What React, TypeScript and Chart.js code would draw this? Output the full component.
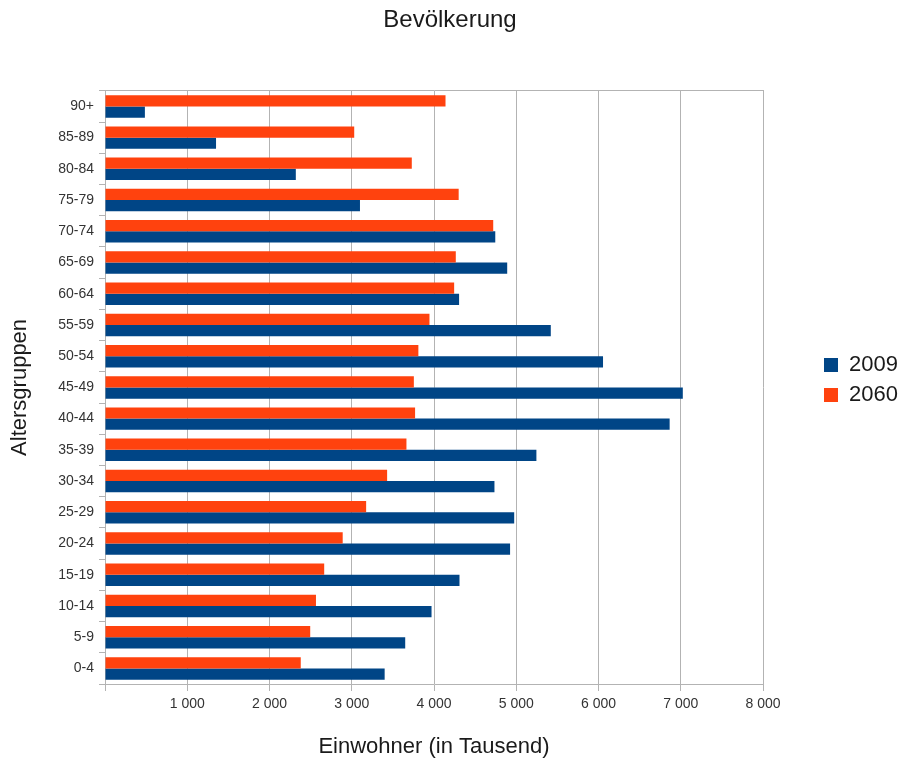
import React, { useEffect, useRef } from 'react';
import { Chart, registerables } from 'chart.js';

Chart.register(...registerables);

const chartTitle = 'Bevölkerung';
const xAxisTitle = 'Einwohner (in Tausend)';
const yAxisTitle = 'Altersgruppen';

const categories = [
  '0-4', '5-9', '10-14', '15-19', '20-24', '25-29', '30-34', '35-39', '40-44', '45-49',
  '50-54', '55-59', '60-64', '65-69', '70-74', '75-79', '80-84', '85-89', '90+',
];

const values2009 = [
  3400, 3650, 3970, 4310, 4925, 4975, 4735, 5245, 6865, 7025,
  6055, 5420, 4305, 4890, 4745, 3100, 2320, 1350, 485,
];

const values2060 = [
  2380, 2495, 2565, 2665, 2890, 3175, 3430, 3665, 3770, 3755,
  3810, 3945, 4245, 4265, 4720, 4300, 3730, 3030, 4140,
];

const series2009 = '2009';
const series2060 = '2060';

const xMin = 0;
const xMax = 8000;
const xStep = 1000;

const BLUE = '#004586';
const ORANGE = '#ff420e';
const GRID = '#b3b3b3';
const FONT = "'Liberation Sans', Arial, sans-serif";

function formatTick(v: number): string {
  if (v === 0) return '';
  return String(v).replace(/\B(?=(\d{3})+(?!\d))/g, ' ');
}

export default function App() {
  const canvasRef = useRef<HTMLCanvasElement | null>(null);

  useEffect(() => {
    const canvas = canvasRef.current;
    if (!canvas) return;
    Chart.defaults.font.family = FONT;

    // top-to-bottom order: oldest age group at the top
    const labels = [...categories].reverse();
    const d2009 = [...values2009].reverse();
    const d2060 = [...values2060].reverse();

    const chart = new Chart(canvas, {
      type: 'bar',
      data: {
        labels,
        datasets: [
          {
            label: series2060,
            data: d2060,
            backgroundColor: ORANGE,
            borderWidth: 0,
            xAxisID: 'x',
            yAxisID: 'y',
            categoryPercentage: 0.72,
            barPercentage: 1.0,
          },
          {
            label: series2009,
            data: d2009,
            backgroundColor: BLUE,
            borderWidth: 0,
            xAxisID: 'x',
            yAxisID: 'y',
            categoryPercentage: 0.72,
            barPercentage: 1.0,
          },
        ],
      },
      options: {
        indexAxis: 'y',
        responsive: false,
        maintainAspectRatio: false,
        animation: false,
        layout: { padding: 0 },
        plugins: {
          title: {
            display: true,
            text: chartTitle,
            color: '#1a1a1a',
            font: { family: FONT, size: 24, weight: 'normal' },
            padding: { top: 6, bottom: 56 },
          },
          legend: {
            display: true,
            position: 'right',
            maxWidth: 84,
            labels: {
              boxWidth: 14,
              boxHeight: 14,
              padding: 8,
              color: '#1a1a1a',
              font: { family: FONT, size: 22 },
              sort: (a: any, b: any) => b.datasetIndex - a.datasetIndex,
            },
          },
          tooltip: { enabled: false },
        },
        scales: {
          x: {
            type: 'linear',
            position: 'bottom',
            min: xMin,
            max: xMax,
            ticks: {
              stepSize: xStep,
              color: '#333333',
              font: { family: FONT, size: 14 },
              padding: 5,
              maxRotation: 0,
              callback: (v: any) => formatTick(Number(v)),
            },
            grid: {
              color: GRID,
              lineWidth: 1,
              drawTicks: true,
              tickLength: 7,
              tickColor: GRID,
            },
            border: { display: true, color: GRID, width: 1 },
            title: {
              display: true,
              text: xAxisTitle,
              color: '#1a1a1a',
              font: { family: FONT, size: 22 },
              padding: { top: 0, bottom: 0 },
            },
            afterFit: (s: any) => {
              s.height = 76;
            },
          },
          xTop: {
            type: 'linear',
            position: 'top',
            display: true,
            ticks: { display: false },
            grid: { display: false, drawTicks: false },
            border: { display: true, color: GRID, width: 1 },
            afterFit: (s: any) => {
              s.height = 0;
            },
          },
          y: {
            type: 'category',
            position: 'left',
            offset: true,
            ticks: {
              color: '#333333',
              font: { family: FONT, size: 14 },
              padding: 5,
            },
            grid: {
              display: true,
              offset: true,
              drawOnChartArea: false,
              drawTicks: true,
              tickLength: 6,
              color: GRID,
              tickColor: GRID,
            },
            border: { display: true, color: GRID, width: 1 },
            title: {
              display: true,
              text: yAxisTitle,
              color: '#1a1a1a',
              font: { family: FONT, size: 22 },
              padding: { top: 7, bottom: 0 },
            },
            afterFit: (s: any) => {
              s.width = 105;
            },
          },
          yRight: {
            type: 'linear',
            position: 'right',
            display: true,
            ticks: { display: false },
            grid: { display: false, drawTicks: false },
            border: { display: false },
            afterFit: (s: any) => {
              s.width = 53;
            },
          },
        },
      },
    } as any);

    return () => {
      chart.destroy();
    };
  }, []);

  return (
    <canvas
      ref={canvasRef}
      width={900}
      height={760}
      style={{ position: 'fixed', left: 0, top: 0, width: 900, height: 760, display: 'block', background: '#ffffff' }}
    />
  );
}
